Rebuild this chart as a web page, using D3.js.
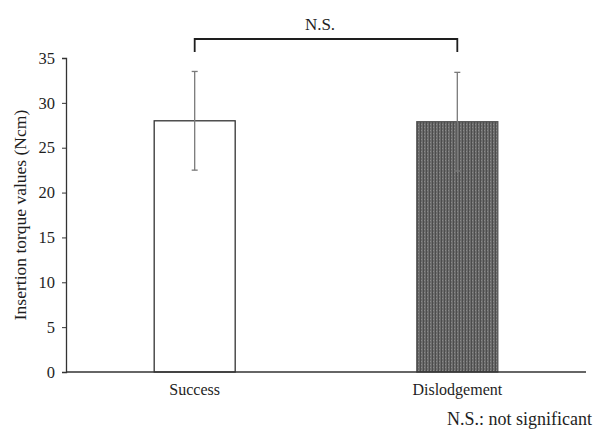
<!DOCTYPE html>
<html>
<head>
<meta charset="utf-8">
<script src="https://cdn.jsdelivr.net/npm/d3@7"></script>
<style>
  html, body { margin: 0; padding: 0; background: #fff; }
  svg { display: block; }
  text { font-family: "Liberation Serif", "Times New Roman", serif; fill: #1e1e1e; }
</style>
</head>
<body>
<script>
// Insertion torque by outcome group (mean ± SD)
const categories = ["Success", "Dislodgement"];
const means = [28.0, 27.9];
const sds = [5.5, 5.5];
const yTicks = [0, 5, 10, 15, 20, 25, 30, 35];
const yLabel = "Insertion torque values (Ncm)";
const sigLabel = "N.S.";
const footnote = "N.S.: not significant";

const W = 595, H = 431;
const svg = d3.select("body").append("svg").attr("width", W).attr("height", H);

const x0 = 66, x1 = 586, yTop = 58, yBot = 372;

const x = d3.scalePoint().domain(categories).range([x0, x1]).padding(0.49);
const barW = 81;
const y = d3.scaleLinear().domain([0, 35]).range([yBot, yTop]);

// dotted dark fill for the second bar
const defs = svg.append("defs");
const pat = defs.append("pattern").attr("id", "dots").attr("patternUnits", "userSpaceOnUse")
  .attr("width", 3).attr("height", 3);
pat.append("rect").attr("width", 3).attr("height", 3).attr("fill", "#6c6c6c");
pat.append("rect").attr("width", 1).attr("height", 3).attr("fill", "#4c4c4c");
pat.append("rect").attr("x", 1).attr("y", 1).attr("width", 1).attr("height", 1).attr("fill", "#8a8a8a");

// y axis
const yAxis = d3.axisLeft(y).tickValues(yTicks).tickSize(4).tickPadding(7);
const gy = svg.append("g").attr("transform", `translate(${x0},0)`).call(yAxis);
gy.select(".domain").attr("stroke", "#333").attr("stroke-width", 1.3);
gy.selectAll(".tick line").attr("stroke", "#333");
gy.selectAll(".tick text").style("font-size", "16.5px").attr("fill", "#1e1e1e")
  .style("font-family", '"Liberation Serif", serif');

// bars
svg.selectAll("rect.bar").data(categories).enter().append("rect")
  .attr("class", "bar")
  .attr("x", d => x(d) - barW / 2)
  .attr("y", (d, i) => y(means[i]))
  .attr("width", barW)
  .attr("height", (d, i) => y(0) - y(means[i]))
  .attr("fill", (d, i) => i === 0 ? "#fff" : "url(#dots)")
  .attr("stroke", (d, i) => i === 0 ? "#333" : "#555")
  .attr("stroke-width", 1.3);

// error bars
const eb = svg.selectAll("g.err").data(categories).enter().append("g").attr("class", "err");
eb.append("line")
  .attr("x1", d => x(d)).attr("x2", d => x(d))
  .attr("y1", (d, i) => y(means[i] + sds[i]))
  .attr("y2", (d, i) => y(means[i] - sds[i]))
  .attr("stroke", "#7a7a7a").attr("stroke-width", 1.3);
[1, -1].forEach(s => {
  eb.append("line")
    .attr("x1", d => x(d) - 3).attr("x2", d => x(d) + 3)
    .attr("y1", (d, i) => y(means[i] + s * sds[i]))
    .attr("y2", (d, i) => y(means[i] + s * sds[i]))
    .attr("stroke", "#7a7a7a").attr("stroke-width", 1.3);
});

// x axis
svg.append("line").attr("x1", x0).attr("x2", x1).attr("y1", yBot).attr("y2", yBot)
  .attr("stroke", "#333").attr("stroke-width", 1.3);
svg.selectAll("text.cat").data(categories).enter().append("text")
  .attr("class", "cat")
  .attr("x", d => x(d)).attr("y", yBot + 23)
  .attr("text-anchor", "middle").style("font-size", "16px")
  .text(d => d);

// y label
svg.append("text")
  .attr("transform", `translate(26,${(yTop + yBot) / 2}) rotate(-90)`)
  .attr("text-anchor", "middle").style("font-size", "17.5px")
  .text(yLabel);

// significance bracket
const bY = 39, bDrop = 13;
const xa = x(categories[0]), xb = x(categories[1]);
svg.append("path")
  .attr("d", `M${xa},${bY + bDrop}V${bY}H${xb}V${bY + bDrop}`)
  .attr("fill", "none").attr("stroke", "#1e1e1e").attr("stroke-width", 1.8);
svg.append("text").attr("x", (xa + xb) / 2 - 6).attr("y", bY - 9)
  .attr("text-anchor", "middle").style("font-size", "17px").text(sigLabel);

// footnote
svg.append("text").attr("x", 592).attr("y", 425)
  .attr("text-anchor", "end").style("font-size", "18px").text(footnote);
</script>
</body>
</html>
